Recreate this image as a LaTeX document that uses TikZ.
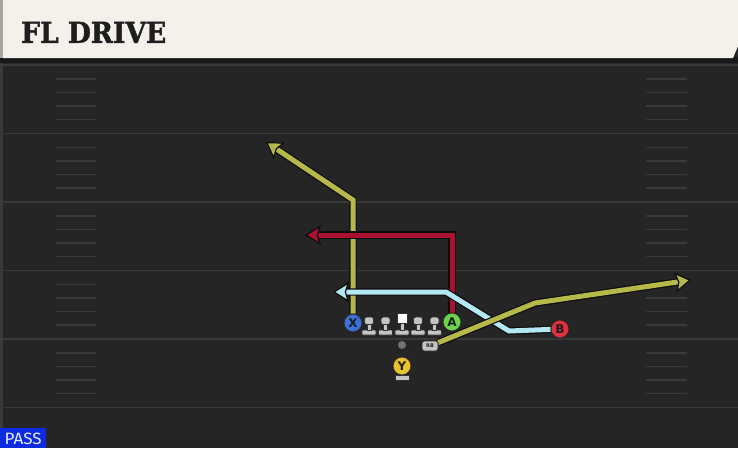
\documentclass[tikz,border=0pt]{standalone}
\usepackage{fontspec}
\usepackage{graphicx}
\setmainfont{DejaVu Serif}
\newfontfamily\titlefont[BoldFeatures={FakeBold=1.5}]{DejaVu Serif}
\newfontfamily\lblfont{DejaVu Sans}
\newfontfamily\passfont{Fira Sans}
\usetikzlibrary{arrows.meta}
\definecolor{fieldc}{HTML}{252525}
\definecolor{yardc}{HTML}{393939}
\definecolor{hashc}{HTML}{3A3A3A}
\definecolor{headc}{HTML}{F4F1EA}
\definecolor{titlec}{HTML}{1E1E1E}
\definecolor{olivec}{HTML}{B6B84A}
\definecolor{redc}{HTML}{A8122F}
\definecolor{cyanc}{HTML}{B2E8F1}
\definecolor{bluec}{HTML}{3C6FD8}
\definecolor{greenc}{HTML}{6CD44A}
\definecolor{bredc}{HTML}{E0313F}
\definecolor{yelc}{HTML}{E9C32D}
\definecolor{linec}{HTML}{C4C4C4}
\definecolor{passc}{HTML}{0B2BE0}
\pgfdeclarelayer{field}
\pgfdeclarelayer{routes}
\pgfsetlayers{field,routes,main}
\tikzset{
  yardline/.style={draw=yardc, line width=1.6pt},
  hashmark/.style={draw=hashc, line width=1.4pt},
  player/.style={circle, minimum size=18pt, inner sep=0pt, draw=black!85, line width=0.8pt,
    text=titlec, font=\lblfont\bfseries\fontsize{12}{12}\selectfont},
  routeout/.style={line width=7.4pt, draw=black!95, shorten >=12pt},
  routein/.style={line width=5pt, draw=#1,
    -{Stealth[length=16pt,width=20pt,inset=3pt,fill=#1,color=black!95,line width=1.2pt]}},
  lineman/.pic={
    \fill[linec, draw=black!80, line width=0.6pt, rounded corners=1pt] (-7,-5) rectangle (7,0);
    \fill[linec, draw=black!80, line width=0.6pt] (-2,-11) rectangle (2,-5);
    \fill[linec, draw=black!80, line width=0.6pt, rounded corners=2.5pt] (-4.5,-18) rectangle (4.5,-10.5);
  },
  centerman/.pic={
    \fill[linec, draw=black!80, line width=0.6pt, rounded corners=1pt] (-7,-5) rectangle (7,0);
    \fill[linec, draw=black!80, line width=0.6pt] (-2,-13) rectangle (2,-5);
    \fill[white, draw=black!80, line width=0.6pt] (-5,-22) rectangle (5,-12);
  }
}
\newcommand\routeline[2]{\draw[routeout] #2; \draw[routein=#1] #2;}
\begin{document}
\begin{tikzpicture}[x=1pt,y=-1pt]
\useasboundingbox (0,0) rectangle (738,448);
\begin{pgfonlayer}{field}
\fill[fieldc] (0,0) rectangle (738,448);
\fill[yardc] (0,60) rectangle (2.5,448);
\foreach \y in {65,133.5,202,270.5,339,407.5} \draw[yardline] (0,\y) -- (738,\y);
\foreach \b in {65,133.5,202,270.5,339} \foreach \o in {14,27.5,41,54.5} {
  \draw[hashmark] (56,\b+\o) -- (96,\b+\o);
  \draw[hashmark] (646,\b+\o) -- (687,\b+\o);
}
\fill[black!90] (0,57) rectangle (738,62.5);
\fill[headc] (3,0) -- (738,0) -- (738,46) -- (733,58) -- (3,58) -- cycle;
\fill[black!35] (0,0) rectangle (3,58);
\end{pgfonlayer}
\node[anchor=south west, inner sep=0pt, text=titlec] (title) at (21,43)
  {\resizebox{145pt}{21pt}{\titlefont\bfseries FL DRIVE}};
% players
\node[player, fill=bluec] (X) at (353,323) {X};
\node[player, fill=greenc] (A) at (452,322) {A};
\node[player, fill=bredc] (B) at (560,329) {B};
\node[player, fill=yelc] (Y) at (402,366) {Y};
\fill[linec, draw=black!80, line width=0.6pt] (395,375.5) rectangle (409,380);
\pic (l1) at (369,335) {lineman};
\pic (l2) at (385.5,335) {lineman};
\pic (c) at (402,335) {centerman};
\pic (l3) at (418,335) {lineman};
\pic (l4) at (434.5,335) {lineman};
\node[circle, fill=black!55, minimum size=8pt, inner sep=0pt] (qb) at (402,345) {};
\node[rounded corners=2.5pt, fill=linec, draw=black!85, line width=0.6pt, minimum width=16pt,
  minimum height=10pt, inner sep=0pt, text=titlec,
  font=\lblfont\bfseries\fontsize{5}{5}\selectfont] (rb) at (430,346) {RB};
% route points
\coordinate (x1) at (353,200);
\coordinate (x2) at (266,142);
\coordinate (a2) at (305,235);
\coordinate (b1) at (509,331);
\coordinate (b2) at (446,292);
\coordinate (b3) at (333,292);
\coordinate (r1) at (535,303);
\coordinate (r2) at (691,280);
\begin{pgfonlayer}{routes}
\routeline{olivec}{(X) -- (X |- x1) -- (x2)}
\routeline{redc}{(A) |- (a2)}
\routeline{cyanc}{(B) -- (b1) -- (b2) -- (b3)}
\routeline{olivec}{(rb) -- (r1) -- (r2)}
\end{pgfonlayer}
% PASS
\fill[passc] (0,428) rectangle (46,448);
\node[anchor=south west, inner sep=0pt, text=white!92!blue] (pass) at (4.5,445)
  {\resizebox{37pt}{11.5pt}{\passfont PASS}};
\end{tikzpicture}
\end{document}
